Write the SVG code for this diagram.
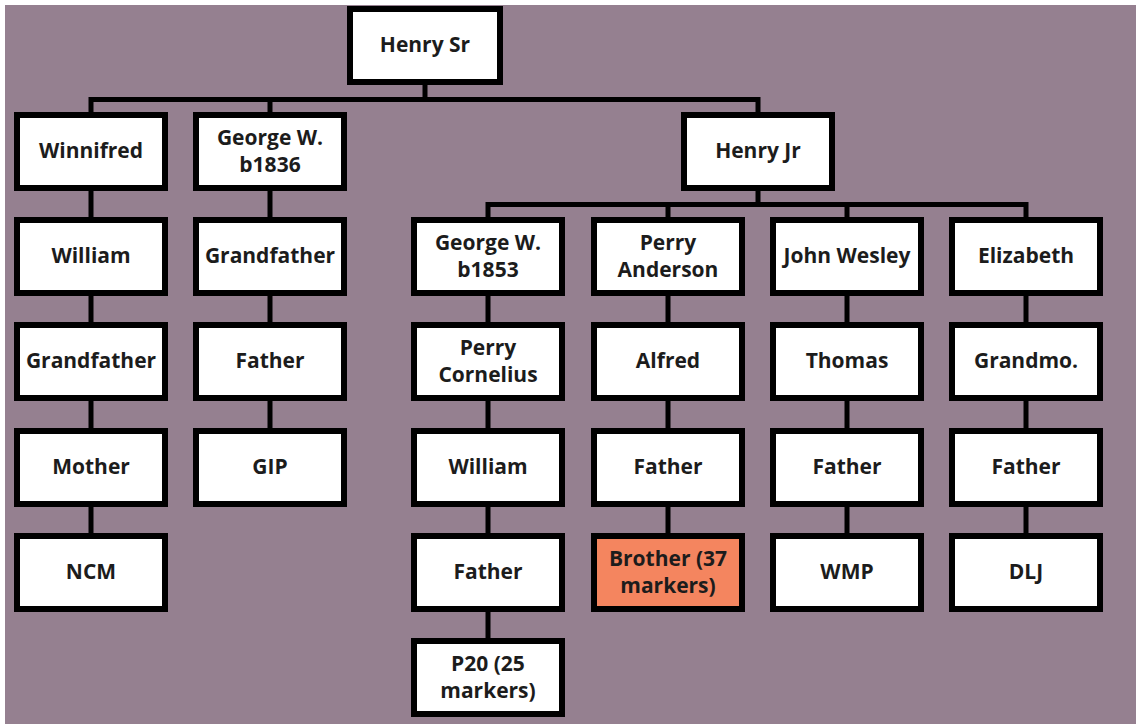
<svg xmlns="http://www.w3.org/2000/svg" width="1136" height="724" viewBox="0 0 1136 724">
<style>
.bg{fill:#958090}
.box rect{fill:#ffffff;stroke:#000000;stroke-width:6}
.box.hl rect{fill:#f4855f}
.box text{font-family:"Open Sans","Liberation Sans",sans-serif;font-weight:bold;font-size:21px;fill:#1c1c1c;text-anchor:middle}
#connectors path{fill:none;stroke:#000000;stroke-width:5;stroke-linejoin:miter}
</style>
<rect x="0" y="0" width="1136" height="724" fill="#ffffff"/>
<rect class="bg" x="5" y="5" width="1131" height="719"/>
<g id="connectors">
<path d="M425 85 V99.5"/>
<path d="M91 112 V99.5 H758 V112"/>
<path d="M270 99.5 V112"/>
<path d="M758 191 V204.5"/>
<path d="M488 217 V204.5 H1026 V217"/>
<path d="M668 204.5 V217"/>
<path d="M847 204.5 V217"/>
<path d="M91 191 V533"/>
<path d="M270 191 V428"/>
<path d="M488 296 V638"/>
<path d="M668 296 V533"/>
<path d="M847 296 V533"/>
<path d="M1026 296 V533"/>
</g>
<g id="henry-sr" class="box"><rect x="350" y="9" width="150" height="73"/><text x="425" y="52">Henry Sr</text></g>
<g id="winnifred" class="box"><rect x="17" y="115" width="148" height="73"/><text x="91" y="158">Winnifred</text></g>
<g id="george-b1836" class="box"><rect x="196" y="115" width="148" height="73"/><text x="270" y="145">George W.</text><text x="270" y="172">b1836</text></g>
<g id="henry-jr" class="box"><rect x="684" y="115" width="148" height="73"/><text x="758" y="158">Henry Jr</text></g>
<g id="william-1" class="box"><rect x="17" y="220" width="148" height="73"/><text x="91" y="263">William</text></g>
<g id="grandfather-2" class="box"><rect x="196" y="220" width="148" height="73"/><text x="270" y="263">Grandfather</text></g>
<g id="george-b1853" class="box"><rect x="414" y="220" width="148" height="73"/><text x="488" y="250">George W.</text><text x="488" y="277">b1853</text></g>
<g id="perry-anderson" class="box"><rect x="594" y="220" width="148" height="73"/><text x="668" y="250">Perry</text><text x="668" y="277">Anderson</text></g>
<g id="john-wesley" class="box"><rect x="773" y="220" width="148" height="73"/><text x="847" y="263">John Wesley</text></g>
<g id="elizabeth" class="box"><rect x="952" y="220" width="148" height="73"/><text x="1026" y="263">Elizabeth</text></g>
<g id="grandfather-1" class="box"><rect x="17" y="325" width="148" height="73"/><text x="91" y="368">Grandfather</text></g>
<g id="father-2" class="box"><rect x="196" y="325" width="148" height="73"/><text x="270" y="368">Father</text></g>
<g id="perry-cornelius" class="box"><rect x="414" y="325" width="148" height="73"/><text x="488" y="355">Perry</text><text x="488" y="382">Cornelius</text></g>
<g id="alfred" class="box"><rect x="594" y="325" width="148" height="73"/><text x="668" y="368">Alfred</text></g>
<g id="thomas" class="box"><rect x="773" y="325" width="148" height="73"/><text x="847" y="368">Thomas</text></g>
<g id="grandmo" class="box"><rect x="952" y="325" width="148" height="73"/><text x="1026" y="368">Grandmo.</text></g>
<g id="mother" class="box"><rect x="17" y="431" width="148" height="73"/><text x="91" y="474">Mother</text></g>
<g id="gip" class="box"><rect x="196" y="431" width="148" height="73"/><text x="270" y="474">GIP</text></g>
<g id="william-3" class="box"><rect x="414" y="431" width="148" height="73"/><text x="488" y="474">William</text></g>
<g id="father-4" class="box"><rect x="594" y="431" width="148" height="73"/><text x="668" y="474">Father</text></g>
<g id="father-5" class="box"><rect x="773" y="431" width="148" height="73"/><text x="847" y="474">Father</text></g>
<g id="father-6" class="box"><rect x="952" y="431" width="148" height="73"/><text x="1026" y="474">Father</text></g>
<g id="ncm" class="box"><rect x="17" y="536" width="148" height="73"/><text x="91" y="579">NCM</text></g>
<g id="father-3" class="box"><rect x="414" y="536" width="148" height="73"/><text x="488" y="579">Father</text></g>
<g id="brother" class="box hl"><rect x="594" y="536" width="148" height="73"/><text x="668" y="566">Brother (37</text><text x="668" y="593">markers)</text></g>
<g id="wmp" class="box"><rect x="773" y="536" width="148" height="73"/><text x="847" y="579">WMP</text></g>
<g id="dlj" class="box"><rect x="952" y="536" width="148" height="73"/><text x="1026" y="579">DLJ</text></g>
<g id="p20" class="box"><rect x="414" y="641" width="148" height="73"/><text x="488" y="671">P20 (25</text><text x="488" y="698">markers)</text></g>
</svg>
